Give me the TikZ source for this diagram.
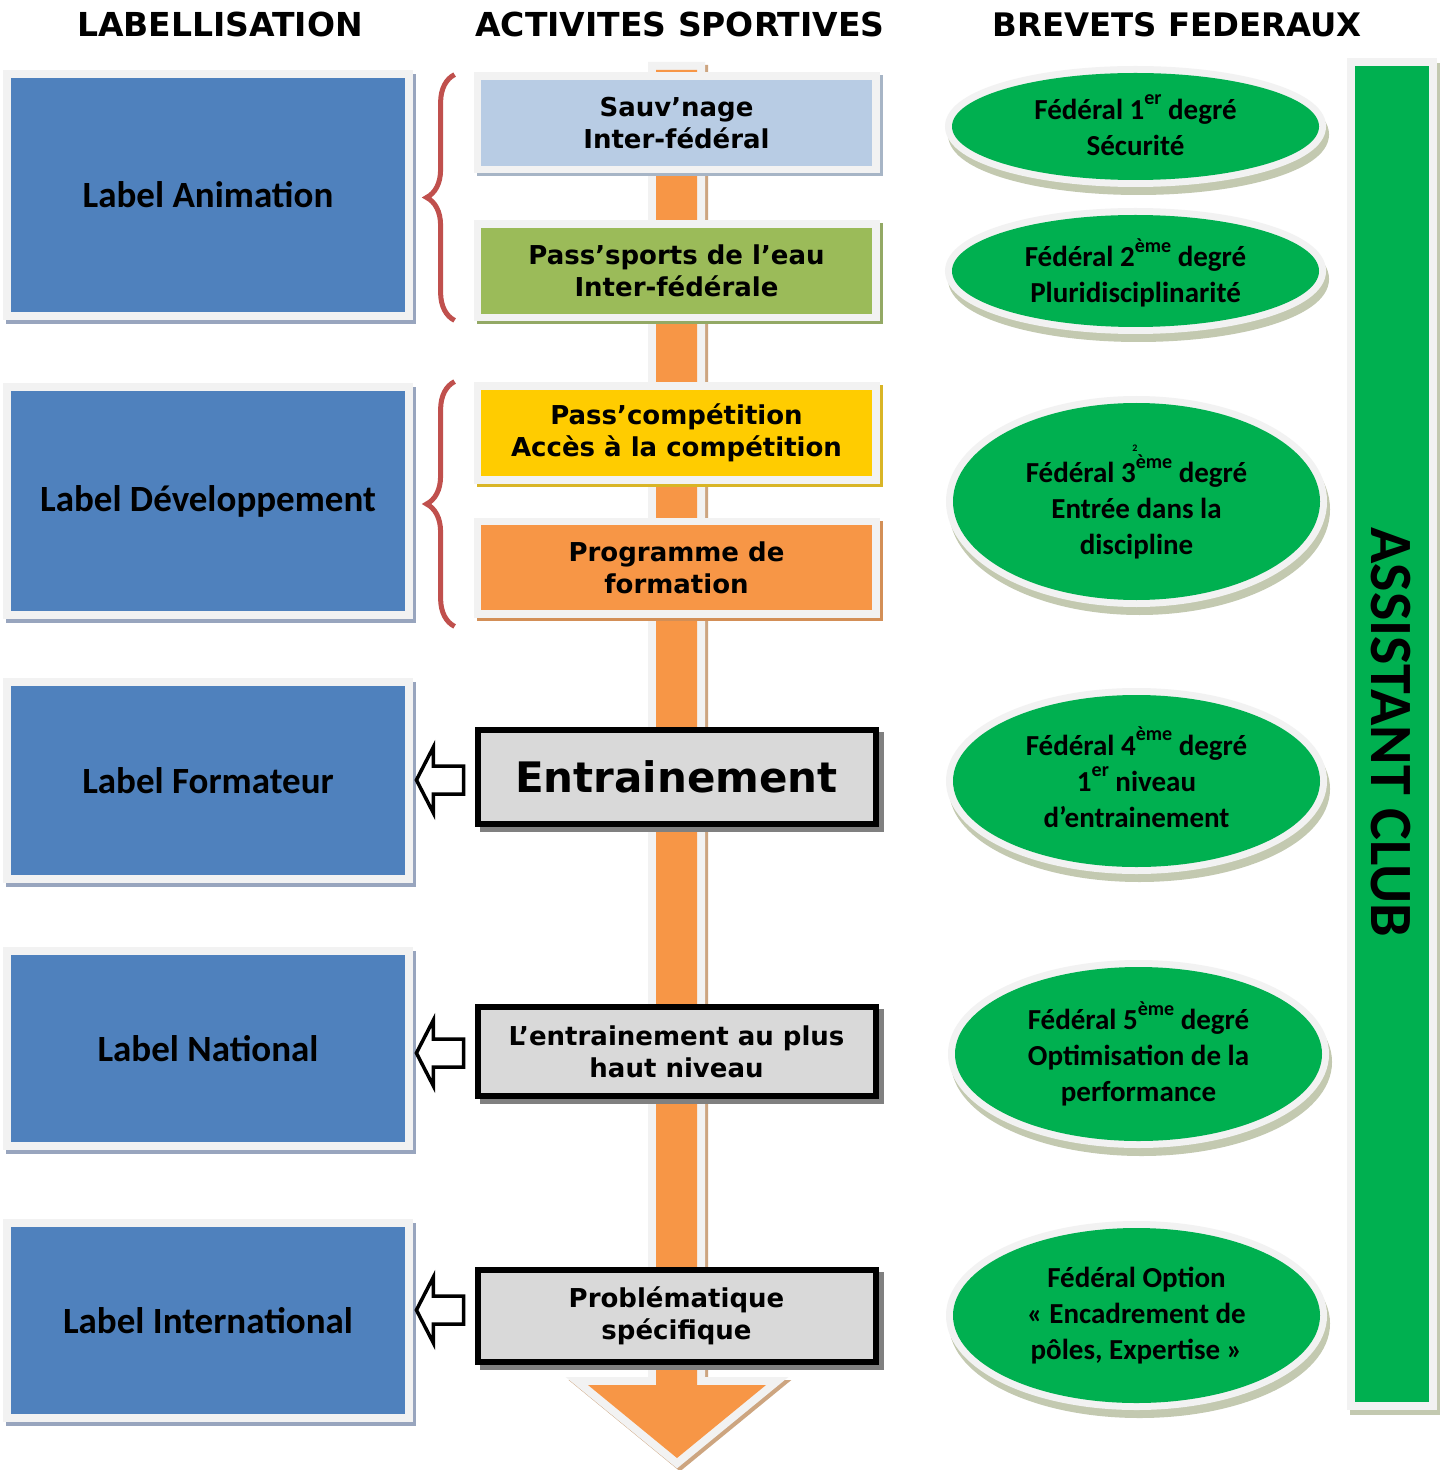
\documentclass[tikz,border=0pt]{standalone}
\usepackage{fontspec}
\setmainfont{Carlito}
\newfontfamily\verd{DejaVu Sans}
\usetikzlibrary{shapes.geometric,calc,decorations.pathreplacing}
\definecolor{lblue}{HTML}{4F81BD}
\definecolor{frameg}{HTML}{F2F2F2}
\definecolor{bshadow}{HTML}{98A5BE}
\definecolor{lorange}{HTML}{F79646}
\definecolor{oshadow}{HTML}{CDA580}
\definecolor{sblue}{HTML}{B8CCE4}
\definecolor{pgreen}{HTML}{9BBB59}
\definecolor{pyellow}{HTML}{FFCC00}
\definecolor{egreen}{HTML}{00B050}
\definecolor{eshadow}{HTML}{C3C9B0}
\definecolor{bred}{HTML}{C0504D}
\definecolor{gfill}{HTML}{D9D9D9}
\definecolor{gshadow}{HTML}{808080}
\newcommand\myexp[1]{\raisebox{0.5em}{\fontsize{10}{10}\selectfont #1}}
\newcommand\harrow[3]{%
  \coordinate (t#1) at ($(#1.west)+(-11,#3)$);
  \coordinate (p#1) at ($(t#1 -| #2.east)+(11,0)$);
  \draw[hollowarrow] (p#1) -- ++(17,-33) -- ++(0,19) -- ($(t#1)+(0,-14)$)
    -- ($(t#1)+(0,14)$) -- ($(p#1)+(17,14)$) -- ($(p#1)+(17,33)$) -- cycle;}
\begin{document}
\begin{tikzpicture}[x=0.5pt,y=-0.5pt,
  hdr/.style={anchor=base, font=\verd\bfseries\fontsize{16.5}{20}\selectfont},
  bluebox/.style={fill=lblue, minimum width=197pt, inner sep=0pt,
    font=\fontsize{18.5}{22}\selectfont\bfseries,
    preaction={draw=bshadow, line width=8pt, transform canvas={shift={(1.5pt,-2pt)}}},
    preaction={draw=frameg, line width=8pt}},
  mbox/.style={fill=#1, minimum width=195.5pt, minimum height=43pt, inner sep=0pt,
    align=center, font=\verd\bfseries\fontsize{13}{16}\selectfont,
    preaction={draw=#1!70!gray, line width=7.5pt, transform canvas={shift={(1.5pt,-1.5pt)}}},
    preaction={draw=frameg, line width=7.5pt}},
  gbox/.style={fill=gfill, draw=black, line width=3pt, minimum width=199pt, inner sep=0pt,
    align=center, font=\verd\bfseries\fontsize{13}{16}\selectfont,
    preaction={fill=gshadow, draw=gshadow, transform canvas={shift={(2.5pt,-2.5pt)}}}},
  hollowarrow/.style={draw=black, fill=white, line width=1.75pt, line join=miter},
  bracestyle/.style={draw=bred, line width=2.5pt, decorate,
    decoration={brace, amplitude=14pt}},
  ell/.style={ellipse, fill=egreen, minimum width=183.5pt, inner sep=0pt, align=center,
    font=\fontsize{14.5}{18}\selectfont\bfseries,
    preaction={draw=eshadow, fill=eshadow, line width=7pt, transform canvas={shift={(1.5pt,-4pt)}}},
    preaction={draw=frameg, line width=7pt}},
  etext/.style={align=center, inner sep=0pt, font=\fontsize{14.5}{18}\selectfont\bfseries}]
\useasboundingbox (0,0) rectangle (1447,1470);
\fill[white] (0,0) rectangle (1447,1470);

% headers
\node[hdr] (h1) at (220,37) {LABELLISATION};
\node[hdr] (h2) at (680,37) {ACTIVITES SPORTIVES};
\node[hdr, font=\verd\bfseries\fontsize{16.2}{20}\selectfont] (h3) at (1177,37) {BREVETS FEDERAUX};

% label boxes
\node[bluebox, minimum height=117pt] (la) at (208,195) {Label Animation};
\node[bluebox, minimum height=110pt] (ld) at (208,501) {Label Développement};
\node[bluebox, minimum height=94.5pt] (lf) at (208,780.5) {Label Formateur};
\node[bluebox, minimum height=93.5pt] (ln) at (208,1048.5) {Label National};
\node[bluebox, minimum height=93.5pt] (li) at (208,1320.5) {Label International};

% big orange arrow
\fill[lorange,
  preaction={draw=oshadow, line width=8pt, line join=miter, transform canvas={shift={(1.5pt,-1.5pt)}}},
  preaction={draw=frameg, line width=8pt, line join=miter}]
  (656,70) -- (697,70) -- (697,1385) -- (766,1385) -- (677,1458) -- (588,1385) -- (656,1385) -- cycle;

% activity boxes
\node[mbox=sblue] (sauv) at (676.5,123) {Sauv’nage\\Inter-fédéral};
\node[mbox=pgreen] (pass) at (676.5,271) {Pass’sports de l’eau\\Inter-fédérale};
\node[mbox=pyellow] (pcomp) at (676.5,433) {Pass’compétition\\Accès à la compétition};
\node[mbox=lorange, minimum height=42.5pt] (prog) at (676.5,567.5) {Programme de\\formation};

\node[gbox, minimum height=47pt, font=\verd\bfseries\fontsize{21}{25}\selectfont] (ent) at (676.5,777) {Entrainement};
\node[gbox, minimum height=44.5pt] (hn) at (676.5,1051.5) {L’entrainement au plus\\haut niveau};
\node[gbox, minimum height=46pt] (pb) at (676.5,1316) {Problématique\\spécifique};

% hollow arrows
\harrow{ent}{lf}{3}
\harrow{hn}{ln}{1.5}
\harrow{pb}{li}{-6}

% braces
\draw[bracestyle] ($(pass.south west)+(-26,6)$) -- ($(sauv.north west)+(-26,-5)$);
\draw[bracestyle] ($(prog.south west)+(-26,16)$) -- ($(pcomp.north west)+(-26,-8)$);

% federal ellipses
\node[ell, minimum height=53.5pt] (e1) at (1135.5,126.5) {};
\node[etext] (e1t) at (1135.5,125) {Fédéral 1\myexp{er} degré\\Sécurité};
\node[ell, minimum height=56pt] (e2) at (1135.5,271) {};
\node[etext] (e2t) at (1135.5,273) {Fédéral 2\myexp{ème} degré\\Pluridisciplinarité};
\node[ell, minimum height=98.5pt] (e3) at (1136.5,501.5) {};
\node[etext] (e3t) at (1136.5,507) {Fédéral 3\myexp{ème} degré\\Entrée dans la\\discipline};
\node[font=\fontsize{5}{5}\selectfont\bfseries] (two) at (1135,448) {2};
\node[ell, minimum height=86pt] (e4) at (1136.5,781) {};
\node[etext] (e4t) at (1136.5,777) {Fédéral 4\myexp{ème} degré\\1\myexp{er} niveau\\d’entrainement};
\node[ell, minimum height=87pt] (e5) at (1138.5,1054) {Fédéral 5\myexp{ème} degré\\Optimisation de la\\performance};
\node[ell, minimum height=87.5pt] (e6) at (1136.5,1315.5) {Fédéral Option\\« Encadrement de\\pôles, Expertise »};

% assistant club bar
\node[fill=egreen, minimum width=37pt, minimum height=668pt, inner sep=0pt,
  preaction={draw=eshadow, line width=8pt, transform canvas={shift={(1.5pt,-2.5pt)}}},
  preaction={draw=frameg, line width=8pt}] (club) at (1392,734) {};
\node[rotate=-90, font=\fontsize{30}{30}\selectfont\bfseries] (clubt) at (1391,732) {ASSISTANT CLUB};
\end{tikzpicture}
\end{document}
